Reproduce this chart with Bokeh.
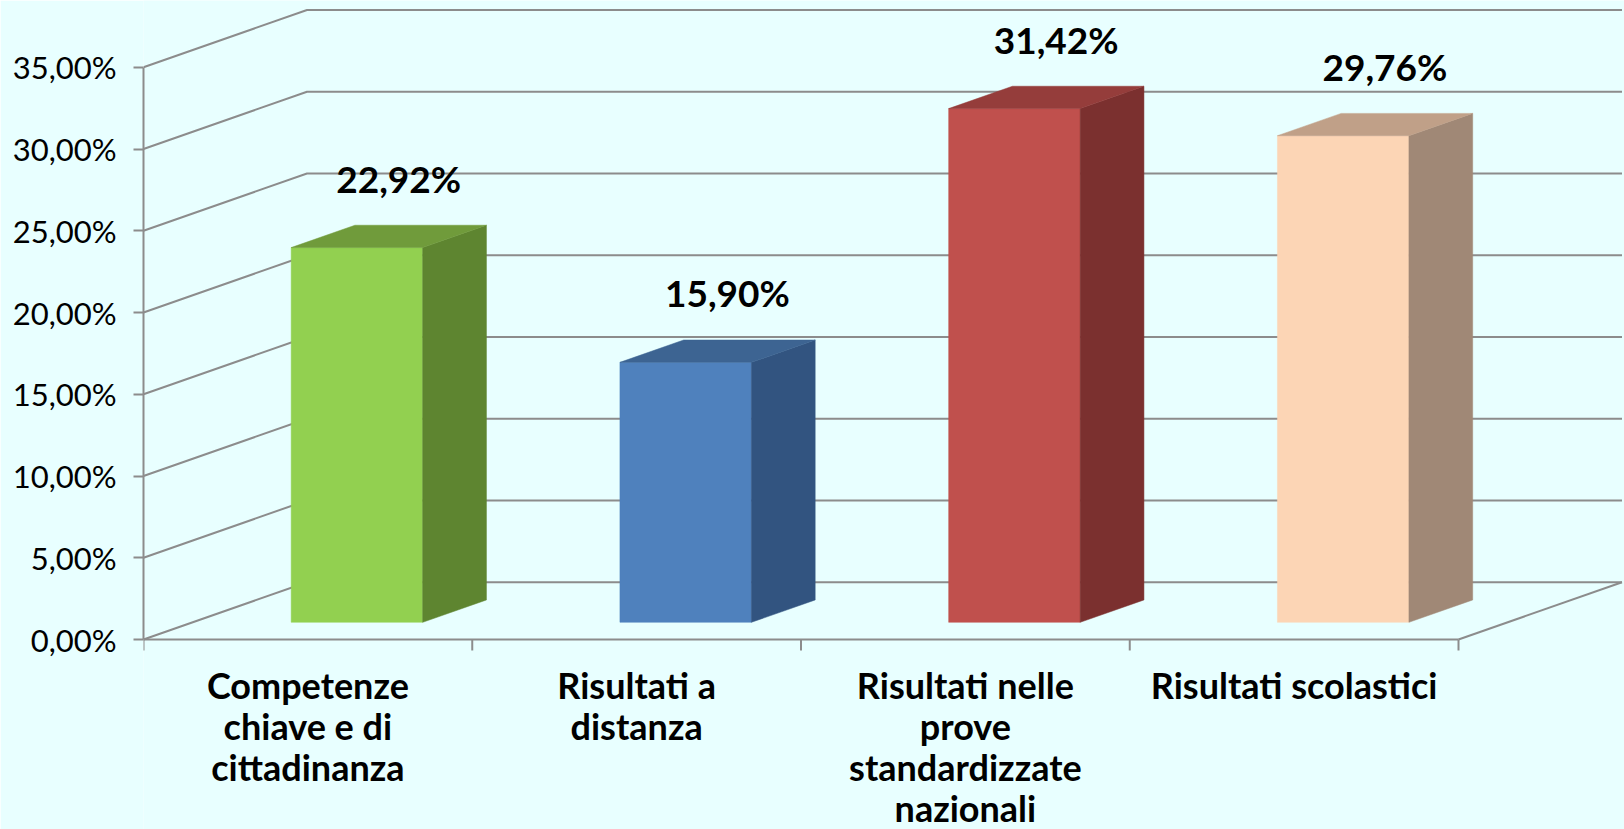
from bokeh.plotting import figure
from bokeh.models import Range1d, FixedTicker
from bokeh.core.properties import value
from bokeh.embed import file_html
from bokeh.resources import INLINE

# ---- data ----
categories = ["Competenze\nchiave e di\ncittadinanza",
              "Risultati a\ndistanza",
              "Risultati nelle\nprove\nstandardizzate\nnazionali",
              "Risultati scolastici"]
values = [22.92, 15.90, 31.42, 29.76]
y_ticks = [0, 5, 10, 15, 20, 25, 30, 35]

front_colors = ["#92D050", "#4F81BD", "#C0504D", "#FCD5B5"]
top_colors = ["#709B3B", "#3D6492", "#953D3B", "#C0A088"]
side_colors = ["#5E8530", "#325480", "#7B302F", "#A08876"]

BG = "#E8FFFF"
GRID = "#8C8C8C"
FONT = "Lato"

# ---- layout constants ----
W, H = 1624, 829
LEFT = 143
AXIS_Y = 639         # pixel row of the 0% front axis
PX_CAT = 328.75      # pixels per category
PX_PCT = 16.35       # pixels per percent
DX = 163.5 / PX_CAT  # depth offset (x, data units)
DY = 57.3 / PX_PCT   # depth offset (y, data units)
D0, D1 = 0.30, 0.69  # bar depth span (fraction of full depth)
HALF = 0.20          # half bar width (category units)
TICK = 11 / PX_PCT   # category tick length (data units)
N = len(values)

x_end = (W - LEFT) / PX_CAT
y_start = -(H - AXIS_Y) / PX_PCT
y_end = AXIS_Y / PX_PCT

p = figure(width=W, height=H, output_backend="svg", toolbar_location=None,
           x_range=Range1d(0, x_end), y_range=Range1d(y_start, y_end),
           x_axis_location=None,
           min_border_left=LEFT, min_border_bottom=0,
           min_border_top=0, min_border_right=0,
           background_fill_color=BG, border_fill_color=BG)
p.outline_line_color = None
p.grid.visible = False

# ---- 3D walls: gridlines ----
gx, gy = [], []
for t in y_ticks:
    gx.append([0, DX, N + DX])
    gy.append([t, t + DY, t + DY])
gx.append([N, N + DX])
gy.append([0, DY])
p.multi_line(gx, gy, line_color=GRID, line_width=2)

# ---- front floor edge with category boundary ticks ----
p.segment(x0=[0], y0=[0], x1=[N], y1=[0], line_color=GRID, line_width=2)
bx = list(range(N + 1))
p.segment(x0=bx, y0=[0] * len(bx), x1=bx, y1=[-TICK] * len(bx),
          line_color=GRID, line_width=2)

# ---- 3D bars ----
fx, fy, fc = [], [], []
for i, v in enumerate(values):
    c = i + 0.5
    xl0, xr0 = c - HALF + D0 * DX, c + HALF + D0 * DX
    xl1, xr1 = c - HALF + D1 * DX, c + HALF + D1 * DX
    y0, y1 = D0 * DY, D1 * DY
    fx.append([xl0, xr0, xr0, xl0]); fy.append([y0, y0, v + y0, v + y0]); fc.append(front_colors[i])
    fx.append([xr0, xr1, xr1, xr0]); fy.append([y0, y1, v + y1, v + y0]); fc.append(side_colors[i])
    fx.append([xl0, xr0, xr1, xl1]); fy.append([v + y0, v + y0, v + y1, v + y1]); fc.append(top_colors[i])
p.patches(fx, fy, fill_color=fc, line_color=fc, line_width=0.5)

# ---- data labels ----
lx = [i + 0.5 + 0.5 * DX for i in range(N)]
ly = [v + 0.5 * DY for v in values]
lt = [f"{v:.2f}".replace(".", ",") + "%" for v in values]
p.text(lx, ly, text=lt, text_font=value(FONT), text_font_style="bold",
       text_font_size="37px", text_color="black", text_align="center",
       text_baseline="alphabetic", x_offset=9, y_offset=-58)

# ---- category labels (one text per line, centred on each category) ----
cx, cy, ct, co = [], [], [], []
for i, cat in enumerate(categories):
    for k, line in enumerate(cat.split("\n")):
        cx.append(i + 0.5); cy.append(0); ct.append(line); co.append(45 + 41 * k)
p.text(cx, cy, text=ct, y_offset=co, text_font=value(FONT), text_font_style="bold",
       text_font_size="36px", text_color="black", text_align="center",
       text_baseline="alphabetic")

# ---- y axis ----
ya = p.yaxis[0]
ya.ticker = FixedTicker(ticks=y_ticks)
ya.bounds = (0, y_ticks[-1])
ya.major_label_overrides = {t: f"{t:.2f}".replace(".", ",") + "%" for t in y_ticks}
ya.axis_line_color = GRID
ya.axis_line_width = 2
ya.major_tick_line_color = GRID
ya.major_tick_line_width = 2
ya.major_tick_out = 10
ya.major_tick_in = 0
ya.minor_tick_line_color = None
ya.major_label_text_font = FONT
ya.major_label_text_font_size = "31px"
ya.major_label_text_color = "black"
ya.major_label_standoff = 17

html = file_html(p, INLINE)
html = html.replace("<body>", f'<body style="background-color:{BG};">', 1)
open("out.html", "w").write(html)
